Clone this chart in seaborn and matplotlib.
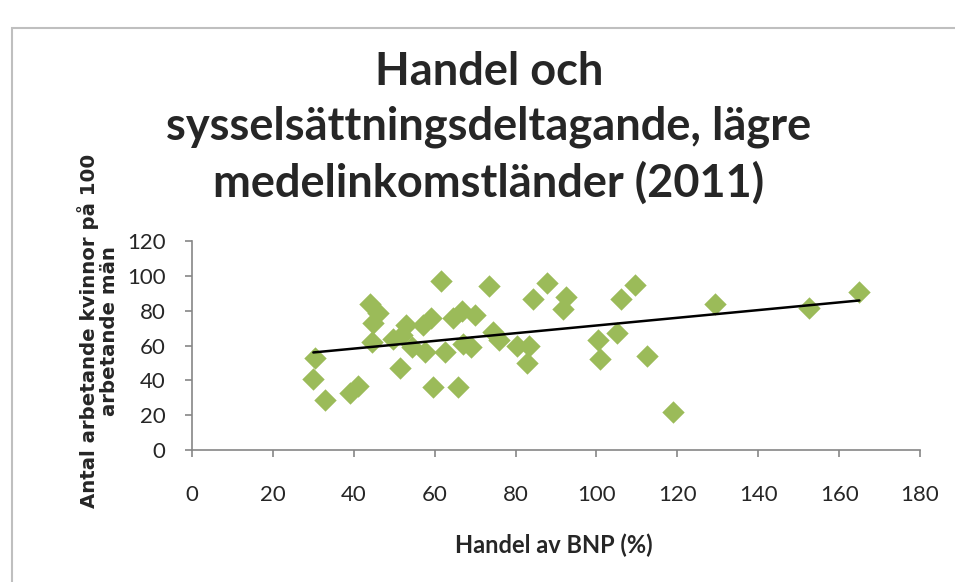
import numpy as np
import pandas as pd
import matplotlib.pyplot as plt
import seaborn as sns
from matplotlib.patches import Rectangle

# Trade as share of GDP (%) and working women per 100 working men
handel = [30, 30.4, 33, 39, 41, 44, 44.8, 46, 44.5, 49.7, 51.4, 53, 52, 54.4,
          57.6, 57, 59, 59.6, 61.5, 62.6, 64.5, 66.8, 65.8, 67, 69, 70,
          73.4, 74.4, 76, 80.4, 82.8, 83.4, 84.3, 87.8, 91.7, 92.5, 100.4,
          101, 105, 106, 109.5, 112.5, 119, 129.3, 152.6, 165]
kvinnor = [41, 53, 28.7, 33, 37, 84, 73, 78.6, 62, 64, 47, 72, 66, 59,
           56, 72, 76, 36, 97, 56, 76, 80, 36, 61, 59, 77.5,
           94, 68, 63, 59.7, 50, 60, 86.7, 96, 81, 88, 63,
           52, 67, 86.7, 94.7, 54, 22, 84, 81.5, 91]

df = pd.DataFrame({'Handel': handel, 'Kvinnor': kvinnor})

sns.set_style('white')
plt.rcParams['font.family'] = ['Lato', 'DejaVu Sans']

fig = plt.figure(figsize=(9.55, 5.82), dpi=100)
ax = fig.add_axes([192 / 955, 1 - 450 / 582, 728 / 955, 209 / 582])

# Chart border like the Excel chart area
fig.add_artist(Rectangle((12 / 955, -0.1), 1.1, 1 - 28 / 582 + 0.1,
                         transform=fig.transFigure, fill=False,
                         edgecolor='#BFBFBF', linewidth=1.5))

sns.regplot(data=df, x='Handel', y='Kvinnor', ax=ax, ci=None,
            marker='D', color='#9BBB59',
            scatter_kws={'s': 130, 'linewidths': 0, 'alpha': 1},
            line_kws={'color': 'black', 'linewidth': 1.8})

ax.set_xlim(0, 180)
ax.set_ylim(0, 120)
ax.set_xticks(range(0, 181, 20))
ax.set_yticks(range(0, 121, 20))
ax.set_xlabel('')
ax.set_ylabel('')

for side in ['top', 'right']:
    ax.spines[side].set_visible(False)
for side in ['left', 'bottom']:
    ax.spines[side].set_color('#868686')
    ax.spines[side].set_linewidth(1.2)

ax.tick_params(axis='x', bottom=True, length=5, width=1.2, color='#868686',
               pad=20, labelsize=16)
ax.tick_params(axis='y', left=True, length=5, width=1.2, color='#868686',
               pad=14, labelsize=16)

fig.text(489 / 955, 1 - 128 / 582,
         'Handel och\nsysselsättningsdeltagande, lägre\nmedelinkomstländer (2011)',
         ha='center', va='center', fontsize=32.5, fontweight='bold',
         linespacing=1.37)

fig.text(554 / 955, 1 - 545 / 582, 'Handel av BNP (%)',
         ha='center', va='center', fontsize=17, fontweight='bold')

fig.text(98 / 955, 1 - 331 / 582, 'Antal arbetande kvinnor på 100\narbetande män',
         ha='center', va='center', rotation=90, fontsize=14.2, fontweight='bold',
         family=['DejaVu Sans'], multialignment='center',
         linespacing=1.05)

fig.savefig('out.png', dpi=100)
